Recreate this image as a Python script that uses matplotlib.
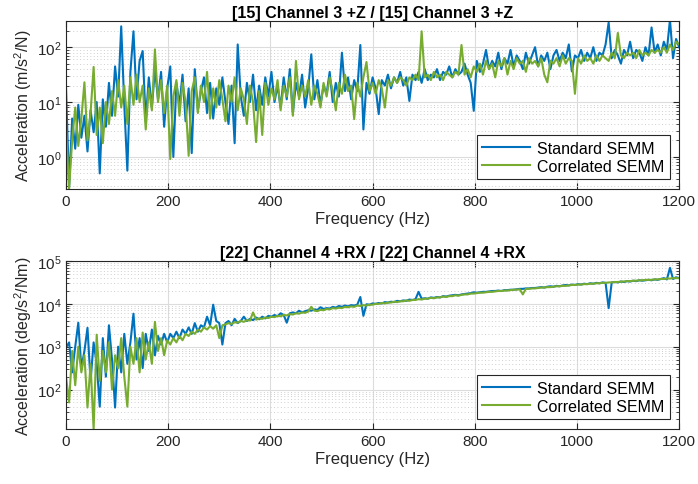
import numpy as np
import matplotlib
matplotlib.use('Agg')
import matplotlib.pyplot as plt
from matplotlib.ticker import LogLocator, NullFormatter, MultipleLocator

plt.rcParams['font.family'] = ['Liberation Sans', 'DejaVu Sans']
plt.rcParams['mathtext.fontset'] = 'custom'
plt.rcParams['mathtext.rm'] = 'Liberation Sans'

# frequency grid (Hz), one sample every 6 Hz
freq = np.arange(0, 1201, 6)

# log10 of the accelerance magnitudes
std_z_log = [
    1.25, -0.55, 0.7, 0.15, 0.95, 0.35, 0.75, 0.1, 0.85, 0.45,
    1.0, -0.3, 1.05, 0.55, 1.35, 0.75, 1.65, 1.1, 2.38, 0.95,
    -0.25, 1.55, 2.29, 1.05, 1.75, 1.93, 0.65, 1.45, 0.9, 1.6,
    1.05, 1.55, 0.55, 1.25, 1.65, 0.0, 1.35, 0.95, 1.5, 0.65,
    1.25, 0.07, 1.6, 0.85, 1.2, 1.45, 0.8, 1.35, 0.7, 1.25,
    0.95, 1.45, 1.0, 0.6, 1.3, 0.25, 2.05, 1.1, 0.75, 1.35,
    1.0, 1.5, 0.85, 1.3, 0.95, 1.45, 1.1, 1.55, 1.0, 1.3,
    0.9, 1.45, 1.05, 1.6, 0.8, 1.35, 1.1, 1.5, 0.9, 1.25,
    1.87, 1.05, 1.4, 0.95, 1.3, 1.15, 1.55, 1.0, 1.35, 1.1,
    1.9, 1.2, 1.45, 1.05, 1.4, 1.2, 2.04, 0.5, 1.35, 1.15,
    1.45, 1.25, 0.78, 1.4, 1.3, 1.5, 1.25, 1.45, 1.35, 1.55,
    1.3, 1.45, 1.02, 1.5, 1.4, 1.55, 1.35, 1.6, 1.4, 1.5,
    1.45, 1.6, 1.4, 1.55, 1.5, 1.65, 1.45, 1.6, 1.5, 1.55,
    1.7, 1.5, 1.35, 0.84, 1.75, 1.55, 1.7, 1.95, 1.6, 1.75,
    1.65, 1.9, 1.6, 1.8, 1.7, 1.95, 1.65, 1.85, 1.75, 1.6,
    1.9, 1.7, 1.85, 2.0, 1.65, 1.85, 1.75, 1.9, 1.6, 1.85,
    1.95, 1.75, 1.9, 1.8, 2.05, 1.56, 1.85, 1.8, 1.95, 1.75,
    1.9, 1.8, 2.0, 1.75, 1.9, 1.85, 2.05, 2.45, 1.8, 1.95,
    1.85, 1.7, 1.95, 1.85, 2.1, 1.8, 1.95, 1.9, 1.75, 2.0,
    1.85, 2.36, 1.9, 2.05, 1.85, 2.1, 1.95, 2.5, 1.8, 2.15,
    2.0]

cor_z_log = [
    0.5, -0.58, 0.3, 0.9, 0.2, 0.7, 1.36, 0.3, 0.8, 1.64,
    0.4, 0.9, 0.25, 1.0, 0.6, 1.2, 0.75, 1.4, 0.9, 1.3,
    0.6, 1.45, 0.95, 1.5, 1.0, 1.3, 0.5, 1.25, 0.85, 1.96,
    1.0, 1.4, 0.8, 1.3, -0.04, 1.1, 1.4, 0.75, 1.35, 1.0,
    0.02, 1.2, 1.45, 0.8, 1.3, 1.0, 1.55, 0.7, 1.25, 0.9,
    1.4, 1.05, 0.65, 1.3, 1.0, 1.45, 0.85, 1.25, 1.05, 0.6,
    1.3, 1.0, 0.27, 1.2, 0.4, 1.35, 0.95, 1.25, 1.05, 1.4,
    0.85, 1.3, 1.1, 1.45, 0.75, 1.75, 1.05, 1.3, 1.1, 1.4,
    0.95, 1.3, 1.15, 0.9, 1.35, 1.1, 1.45, 1.2, 0.85, 1.35,
    1.15, 1.5, 1.2, 1.3, 0.69, 1.35, 1.1, 1.45, 1.73, 1.2,
    1.35, 1.15, 1.4, 1.25, 0.9, 1.4, 1.3, 1.45, 1.35, 1.45,
    1.4, 1.3, 1.45, 1.4, 1.5, 1.4, 2.29, 1.45, 1.5, 1.4,
    1.55, 1.45, 1.5, 1.4, 1.55, 1.5, 1.45, 1.55, 1.5, 2.04,
    1.5, 1.6, 1.45, 1.65, 1.55, 1.7, 1.5, 1.75, 1.6, 1.7,
    1.45, 1.75, 1.65, 1.8, 1.5, 1.75, 1.6, 1.8, 1.7, 1.75,
    1.55, 1.8, 1.7, 1.75, 1.65, 1.8, 1.5, 1.36, 1.75, 1.7,
    1.8, 1.65, 1.85, 1.7, 1.8, 1.75, 1.15, 1.8, 1.7, 1.85,
    1.75, 1.8, 1.7, 1.85, 1.75, 1.85, 1.8, 1.75, 1.9, 1.8,
    2.26, 1.85, 1.8, 1.9, 1.85, 1.9, 1.8, 1.95, 1.85, 1.9,
    1.85, 1.95, 1.9, 1.95, 1.9, 2.0, 1.9, 2.05, 1.95, 2.1,
    2.05]

std_rx_log = [
    2.98, 3.1, 2.4, 3.0, 3.56, 2.5, 2.9, 3.44, 2.2, 3.1,
    2.6, 1.6, 3.2, 2.3, 3.5, 2.7, 1.58, 3.0, 2.4, 3.3,
    2.6, 3.1, 3.77, 2.7, 3.2, 2.5, 3.3, 2.9, 3.4, 2.8,
    3.25, 3.05, 3.3, 3.1, 3.3, 3.2, 3.35, 3.2, 3.4, 3.3,
    3.45, 3.3, 3.55, 3.35, 3.5, 3.45, 3.7, 3.5, 3.98, 3.6,
    3.55, 3.05, 3.55, 3.6, 3.5, 3.65, 3.55, 3.6, 3.7, 3.6,
    3.65, 3.62, 3.68, 3.64, 3.7, 3.66, 3.72, 3.7, 3.74, 3.71,
    3.78, 3.74, 3.56, 3.78, 3.8, 3.78, 3.84, 3.8, 3.83, 3.85,
    3.84, 3.87, 3.86, 3.92, 3.88, 3.9, 3.89, 3.93, 3.91, 3.95,
    3.93, 3.96, 3.94, 3.97, 3.96, 3.98, 4.16, 3.72, 3.99, 3.98,
    4.01, 4.0, 4.02, 4.01, 4.04, 4.03, 4.05, 4.04, 4.07, 4.06,
    4.08, 4.07, 4.1, 4.09, 4.11, 4.28, 4.12, 4.13, 4.12, 4.15,
    4.14, 4.16, 4.15, 4.18, 4.17, 4.19, 4.2, 4.21, 4.2, 4.22,
    4.23, 4.24, 4.25, 4.27, 4.26, 4.27, 4.28, 4.28, 4.29, 4.3,
    4.3, 4.31, 4.3, 4.32, 4.32, 4.33, 4.33, 4.34, 4.35, 4.35,
    4.36, 4.36, 4.37, 4.37, 4.38, 4.39, 4.38, 4.4, 4.41, 4.4,
    4.42, 4.41, 4.43, 4.44, 4.43, 4.45, 4.44, 4.46, 4.45, 4.47,
    4.46, 4.48, 4.47, 4.49, 4.48, 4.5, 4.49, 3.9, 4.5, 4.51,
    4.5, 4.52, 4.51, 4.53, 4.52, 4.54, 4.53, 4.55, 4.54, 4.55,
    4.56, 4.55, 4.57, 4.56, 4.58, 4.6, 4.57, 4.84, 4.58, 4.62,
    4.6]

cor_rx_log = [
    2.3, 1.7, 2.9, 2.1, 3.0, 2.4, 2.8, 1.58, 2.6, 1.07,
    3.28, 2.2, 2.9, 2.4, 3.1, 2.0, 2.8, 2.5, 3.2, 2.3,
    1.6, 3.0, 2.6, 3.2, 2.4, 3.33, 2.7, 3.1, 2.6, 3.58,
    2.9, 3.2, 2.8, 3.15, 3.05, 3.2, 3.1, 3.25, 3.15, 3.3,
    3.25, 3.35, 3.3, 3.4, 3.35, 3.45, 3.4, 3.48, 3.42, 3.5,
    3.2, 3.5, 3.52, 3.55, 3.53, 3.57, 3.56, 3.6, 3.58, 3.62,
    3.61, 3.8, 3.63, 3.66, 3.65, 3.68, 3.67, 3.7, 3.69, 3.72,
    3.71, 3.74, 3.73, 3.76, 3.75, 3.78, 3.77, 3.8, 3.79, 3.82,
    3.93, 3.84, 3.83, 3.86, 3.85, 3.88, 3.87, 3.9, 3.89, 3.91,
    3.9, 3.93, 3.92, 3.94, 3.93, 3.96, 3.95, 3.97, 3.96, 3.98,
    3.98, 4.0, 4.0, 4.02, 4.01, 4.03, 4.03, 4.05, 4.04, 4.06,
    4.06, 4.08, 4.07, 4.09, 4.09, 4.11, 4.1, 4.12, 4.12, 4.14,
    4.13, 4.15, 4.15, 4.17, 4.16, 4.18, 4.18, 4.2, 4.19, 4.21,
    4.22, 4.22, 4.24, 4.24, 4.25, 4.26, 4.26, 4.27, 4.28, 4.28,
    4.29, 4.3, 4.3, 4.31, 4.31, 4.32, 4.33, 4.33, 4.34, 4.22,
    4.35, 4.35, 4.36, 4.36, 4.37, 4.38, 4.38, 4.39, 4.39, 4.4,
    4.41, 4.41, 4.42, 4.42, 4.43, 4.44, 4.44, 4.45, 4.45, 4.46,
    4.46, 4.47, 4.47, 4.48, 4.48, 4.49, 4.49, 4.5, 4.5, 4.51,
    4.51, 4.52, 4.52, 4.53, 4.53, 4.54, 4.54, 4.55, 4.55, 4.56,
    4.56, 4.56, 4.57, 4.57, 4.58, 4.58, 4.59, 4.59, 4.6, 4.6,
    4.6]

titles = ['[15] Channel 3 +Z / [15] Channel 3 +Z',
          '[22] Channel 4 +RX / [22] Channel 4 +RX']
ylabels = ['Acceleration (m/s$^2$/N)', 'Acceleration (deg/s$^2$/Nm)']
labels = ['Standard SEMM', 'Correlated SEMM']

BLUE = '#0072BD'
GREEN = '#77AC30'
DARK = '#262626'

fig = plt.figure(figsize=(6.98, 4.85), dpi=100)
ax1 = fig.add_axes([0.0946, 0.6082, 0.8784, 0.3464])
ax2 = fig.add_axes([0.0946, 0.1134, 0.8784, 0.3464])

panels = [(ax1, std_z_log, cor_z_log, (0.26, 300)),
          (ax2, std_rx_log, cor_rx_log, (12, 1e5))]

for k, (ax, s, c, ylim) in enumerate(panels):
    ax.plot(freq, 10 ** np.array(s), color=BLUE, lw=1.5, label=labels[0])
    ax.plot(freq, 10 ** np.array(c), color=GREEN, lw=1.5, label=labels[1])
    ax.set_yscale('log')
    ax.set_xlim(0, 1200)
    ax.set_ylim(*ylim)
    ax.xaxis.set_major_locator(MultipleLocator(200))
    ax.yaxis.set_major_locator(LogLocator(base=10, numticks=10))
    ax.yaxis.set_minor_locator(LogLocator(base=10, subs=np.arange(2, 10), numticks=20))
    ax.yaxis.set_minor_formatter(NullFormatter())
    ax.grid(True, which='major', color='#dcdcdc', lw=0.8)
    ax.grid(True, which='minor', axis='y', color='#cfcfcf', lw=0.7, linestyle=(0, (1, 2.5)))
    ax.set_axisbelow(True)
    ax.tick_params(which='both', direction='in', top=True, right=True,
                   colors=DARK, labelsize=11)
    ax.tick_params(which='major', length=4)
    ax.tick_params(which='minor', length=2)
    for sp in ax.spines.values():
        sp.set_color(DARK)
        sp.set_linewidth(0.8)
    ax.set_title(titles[k], fontsize=11.5, fontweight='bold', color='black', pad=3)
    ax.set_xlabel('Frequency (Hz)', fontsize=12, color=DARK, labelpad=2)
    ax.set_ylabel(ylabels[k], fontsize=11.5, color=DARK, labelpad=2)
    leg = ax.legend(loc='lower right', fontsize=11.5, fancybox=False, framealpha=1,
                    edgecolor=DARK, handlelength=3.0, borderaxespad=0.6,
                    handletextpad=0.4, labelspacing=0.2, borderpad=0.35)
    leg.get_frame().set_linewidth(0.8)

fig.savefig('out.png', dpi=100, facecolor='white')
